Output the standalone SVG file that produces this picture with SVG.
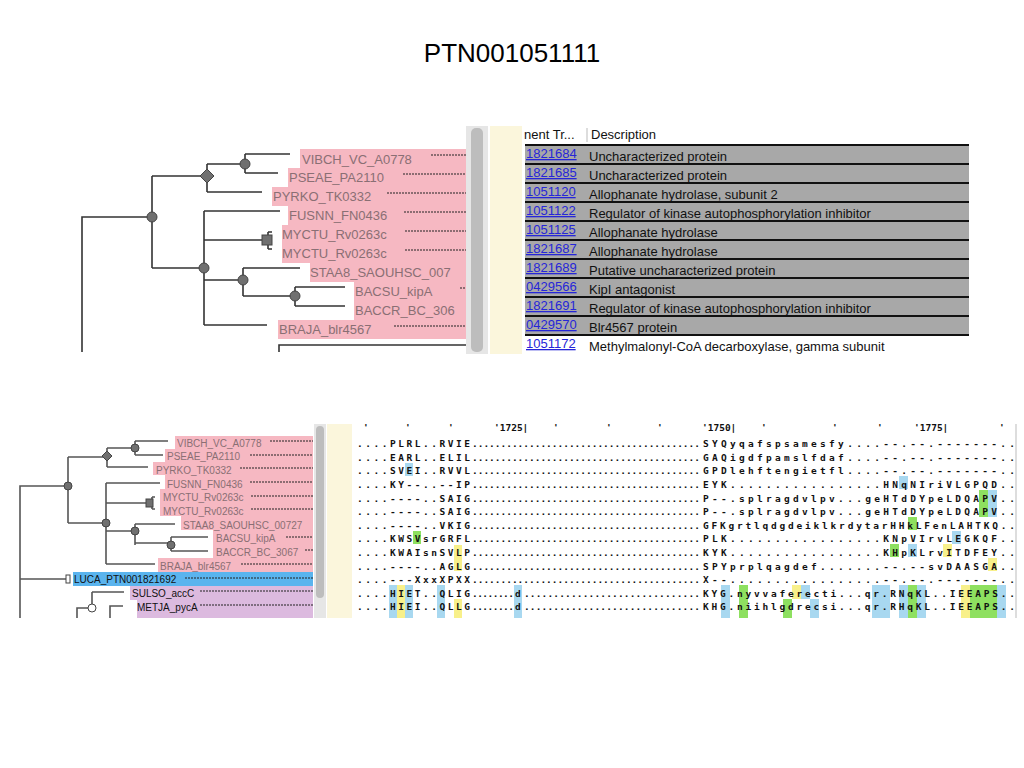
<svg xmlns="http://www.w3.org/2000/svg" width="1024" height="768" viewBox="0 0 1024 768">
<style>
.t{font-family:"Liberation Sans",Arial,sans-serif}
.ln{stroke:#333;stroke-width:1.6;fill:none}
.ln2{stroke:#555;stroke-width:1.6;fill:none}
.nd{fill:#707070;stroke:#444;stroke-width:1}
.lb{font-family:"Liberation Sans",Arial,sans-serif;font-size:13px;fill:#8a6f74}
.lb2{font-family:"Liberation Sans",Arial,sans-serif;font-size:10px;fill:#8a6f74}
.ds{stroke:#222;stroke-width:1;stroke-dasharray:2 1}
.pk{fill:#f6b8c2}
.id{font-family:"Liberation Sans",Arial,sans-serif;font-size:13px;fill:#2626d8;text-decoration:underline}
.de{font-family:"Liberation Sans",Arial,sans-serif;font-size:13px;fill:#111}
.al{font-family:"DejaVu Sans Mono",monospace;font-size:9.5px;font-weight:bold;fill:#111}
.hb{fill:#a8d8f0}.hy{fill:#f8f08a}.hg{fill:#8ee060}
</style>
<rect width="1024" height="768" fill="#fff"/>
<text x="512" y="62" text-anchor="middle" class="t" font-size="26" fill="#000">PTN001051111</text>

<!-- TOP PANEL -->
<g id="top-tree-labels">
<path class="pk" d="M300 149H468V339H278V320H354V282H310V263H282V225H288V206H272V187H288V168H300Z"/>
<text class="lb" x="302" y="164">VIBCH_VC_A0778</text>
<text class="lb" x="289" y="182">PSEAE_PA2110</text>
<text class="lb" x="273" y="201">PYRKO_TK0332</text>
<text class="lb" x="289" y="220">FUSNN_FN0436</text>
<text class="lb" x="282" y="239">MYCTU_Rv0263c</text>
<text class="lb" x="282" y="258">MYCTU_Rv0263c</text>
<text class="lb" x="310" y="277">STAA8_SAOUHSC_007</text>
<text class="lb" x="355" y="296">BACSU_kipA</text>
<text class="lb" x="355" y="315">BACCR_BC_306</text>
<text class="lb" x="279" y="334">BRAJA_blr4567</text>
<g class="ds">
<line x1="431" y1="155" x2="467" y2="155"/><line x1="403" y1="174" x2="467" y2="174"/>
<line x1="387" y1="193" x2="467" y2="193"/><line x1="404" y1="212" x2="467" y2="212"/>
<line x1="405" y1="231" x2="467" y2="231"/><line x1="405" y1="250" x2="467" y2="250"/>
<line x1="460" y1="288" x2="467" y2="288"/><line x1="394" y1="326" x2="467" y2="326"/>
</g>
</g>
<g id="top-tree">
<path class="ln" d="M82 352V217H152M152 176V268M152 176H207M207 164V192M207 164H245M245 154V173M245 154H290M245 173H278M207 192H262"/>
<path class="ln" d="M152 268H204M204 211V325M204 211H280M204 240H263M268 232V249M268 232H272M268 249H272M204 280H243M243 268V296M243 268H300M243 296H295M295 287V306M295 287H345M295 306H345M204 325H267M279 352V345H468"/>
<circle class="nd" cx="152" cy="217" r="5"/><circle class="nd" cx="245" cy="164" r="5"/>
<path class="nd" d="M207 169L214 176L207 183L200 176Z"/>
<circle class="nd" cx="204" cy="268" r="5"/><circle class="nd" cx="243" cy="280" r="5"/>
<circle class="nd" cx="295" cy="296" r="5"/><rect class="nd" x="262" y="235" width="10" height="10"/>
</g>
<g id="top-table">
<rect x="466" y="126" width="22" height="228" fill="#e6e6e6"/>
<rect x="471" y="128" width="12" height="224" rx="5" fill="#bdbdbd"/>
<rect x="490" y="126" width="32" height="228" fill="#fbf6dc"/>
<rect x="522" y="126" width="447" height="228" fill="#fff"/>
<text class="de" x="524" y="139">nent Tr...</text>
<line x1="587" y1="128" x2="587" y2="142" stroke="#bbb"/>
<text class="de" x="591" y="139">Description</text>
<rect x="525" y="145" width="444" height="190" fill="#a8a8a8"/>
<g stroke="#111" stroke-width="2">
<line x1="525" y1="145" x2="969" y2="145"/><line x1="525" y1="164" x2="969" y2="164"/><line x1="525" y1="183" x2="969" y2="183"/>
<line x1="525" y1="202" x2="969" y2="202"/><line x1="525" y1="221" x2="969" y2="221"/><line x1="525" y1="240" x2="969" y2="240"/>
<line x1="525" y1="259" x2="969" y2="259"/><line x1="525" y1="278" x2="969" y2="278"/><line x1="525" y1="297" x2="969" y2="297"/>
<line x1="525" y1="316" x2="969" y2="316"/><line x1="525" y1="335" x2="969" y2="335"/>
</g>
<text class="id" x="526" y="158">1821684</text><text class="de" x="589" y="161">Uncharacterized protein</text>
<text class="id" x="526" y="177">1821685</text><text class="de" x="589" y="180">Uncharacterized protein</text>
<text class="id" x="526" y="196">1051120</text><text class="de" x="589" y="199">Allophanate hydrolase, subunit 2</text>
<text class="id" x="526" y="215">1051122</text><text class="de" x="589" y="218">Regulator of kinase autophosphorylation inhibitor</text>
<text class="id" x="526" y="234">1051125</text><text class="de" x="589" y="237">Allophanate hydrolase</text>
<text class="id" x="526" y="253">1821687</text><text class="de" x="589" y="256">Allophanate hydrolase</text>
<text class="id" x="526" y="272">1821689</text><text class="de" x="589" y="275">Putative uncharacterized protein</text>
<text class="id" x="526" y="291">0429566</text><text class="de" x="589" y="294">KipI antagonist</text>
<text class="id" x="526" y="310">1821691</text><text class="de" x="589" y="313">Regulator of kinase autophosphorylation inhibitor</text>
<text class="id" x="526" y="329">0429570</text><text class="de" x="589" y="332">Blr4567 protein</text>
<text class="id" x="526" y="348">1051172</text><text class="de" x="589" y="351">Methylmalonyl-CoA decarboxylase, gamma subunit</text>
</g>

<!-- BOTTOM PANEL -->
<g id="bottom-tree-labels">
<path class="pk" d="M175 436H313V572H158V558H213V530H181V516H160V489H165V475H153V462H165V449H175Z"/>
<rect x="73" y="572" width="240" height="14" fill="#5ab4ee"/>
<path d="M130 586H313V618H137V600H130Z" fill="#dcbadf"/>
<text class="lb2" x="177" y="447">VIBCH_VC_A0778</text>
<text class="lb2" x="167" y="460">PSEAE_PA2110</text>
<text class="lb2" x="156" y="474">PYRKO_TK0332</text>
<text class="lb2" x="167" y="488">FUSNN_FN0436</text>
<text class="lb2" x="163" y="501">MYCTU_Rv0263c</text>
<text class="lb2" x="163" y="515">MYCTU_Rv0263c</text>
<text class="lb2" x="183" y="529">STAA8_SAOUHSC_00727</text>
<text class="lb2" x="216" y="542">BACSU_kipA</text>
<text class="lb2" x="216" y="556">BACCR_BC_3067</text>
<text class="lb2" x="160" y="570">BRAJA_blr4567</text>
<text class="lb2" x="74" y="583" fill="#111" style="fill:#111">LUCA_PTN001821692</text>
<text class="lb2" x="132" y="597" style="fill:#111">SULSO_accC</text>
<text class="lb2" x="137" y="611" style="fill:#111">METJA_pycA</text>
<g class="ds">
<line x1="270" y1="441" x2="313" y2="441"/><line x1="250" y1="455" x2="313" y2="455"/><line x1="240" y1="468" x2="313" y2="468"/>
<line x1="250" y1="482" x2="313" y2="482"/><line x1="251" y1="496" x2="313" y2="496"/><line x1="251" y1="509" x2="313" y2="509"/>
<line x1="286" y1="537" x2="313" y2="537"/><line x1="305" y1="550" x2="313" y2="550"/><line x1="241" y1="564" x2="313" y2="564"/>
<line x1="185" y1="578" x2="313" y2="578"/><line x1="200" y1="591" x2="313" y2="591"/><line x1="200" y1="605" x2="313" y2="605"/>
</g>
</g>
<g id="bottom-tree">
<path class="ln2" d="M20 618V486H68M68 457V523M68 457H107M107 448V467M107 448H135M135 441V455M135 441H168M135 455H163M107 467H148"/>
<path class="ln2" d="M68 523H106M106 483V564M106 483H160M106 503H148M152 497V509M152 497H155M152 509H155M106 531H135M135 524V545M135 524H175M135 543H171M171 537V551M171 537H208M171 551H208M106 564H155"/>
<path class="ln2" d="M20 579H66M92 592V604M92 592H124M77 618V608H88M110 618V606H123"/>
<rect x="66" y="575" width="4" height="8" fill="#fff" stroke="#444"/>
<circle class="nd" cx="68" cy="486" r="4"/><circle class="nd" cx="135" cy="448" r="4"/>
<path class="nd" d="M107 451L112 456L107 461L102 456Z"/>
<circle class="nd" cx="106" cy="523" r="4"/><circle class="nd" cx="135" cy="531" r="4"/><circle class="nd" cx="171" cy="545" r="4"/>
<rect class="nd" x="146" y="499" width="7" height="8"/>
<circle cx="92" cy="608" r="4" fill="#fff" stroke="#444"/>
</g>
<g id="alignment">
<rect x="314" y="424" width="12" height="194" fill="#e6e6e6"/>
<rect x="316" y="426" width="8" height="172" rx="4" fill="#bdbdbd"/>
<rect x="327" y="424" width="25" height="194" fill="#fbf6dc"/>
<line x1="1016" y1="424" x2="1016" y2="618" stroke="#bbb"/>
<g class="al" font-weight="normal">
<text x="363" y="431">'</text><text x="405" y="431">'</text><text x="448" y="431">'</text><text x="494" y="431">'1725|</text>
<text x="553" y="431">'</text><text x="606" y="431">'</text><text x="657" y="431">'</text><text x="702" y="431">'1750|</text>
<text x="761" y="431">'</text><text x="832" y="431">'</text><text x="877" y="431">'</text><text x="914" y="431">'1775|</text><text x="999" y="431">'</text>
</g>
<!-- highlights left (col x = 357 + 8.07*i) -->
<rect class="hb" x="405" y="463" width="8" height="13"/>
<rect class="hg" x="413" y="531" width="8" height="13"/>
<rect class="hy" x="454" y="545" width="8" height="13"/>
<rect class="hy" x="454" y="558" width="8" height="13"/>
<rect class="hb" x="389" y="585" width="8" height="33"/><rect class="hy" x="397" y="585" width="8" height="33"/><rect class="hb" x="405" y="585" width="8" height="33"/>
<rect class="hb" x="437" y="585" width="8" height="33"/><rect class="hy" x="454" y="599" width="8" height="19"/>
<rect class="hb" x="514" y="585" width="8" height="33"/>
<!-- highlights right (col x = 703 + 8.9*i) -->
<rect class="hb" x="899" y="476" width="9" height="13"/>
<rect class="hg" x="979" y="490" width="9" height="27"/><rect class="hb" x="988" y="490" width="9" height="27"/>
<rect class="hg" x="908" y="517" width="9" height="13"/>
<rect class="hb" x="952" y="531" width="9" height="13"/>
<rect class="hg" x="890" y="544" width="9" height="13"/><rect class="hb" x="908" y="544" width="9" height="13"/><rect class="hy" x="943" y="544" width="9" height="13"/>
<rect class="hy" x="988" y="558" width="9" height="13"/>
<rect class="hb" x="721" y="585" width="9" height="33"/><rect class="hg" x="739" y="585" width="9" height="33"/><rect class="hy" x="792" y="585" width="9" height="14"/>
<rect class="hb" x="801" y="585" width="9" height="14"/><rect class="hb" x="810" y="599" width="9" height="19"/><rect class="hg" x="783" y="599" width="9" height="19"/>
<rect class="hb" x="872" y="585" width="18" height="33"/><rect class="hb" x="899" y="585" width="9" height="33"/><rect class="hg" x="908" y="585" width="9" height="33"/><rect class="hb" x="917" y="585" width="9" height="33"/>
<rect class="hy" x="961" y="585" width="9" height="33"/><rect class="hg" x="970" y="585" width="27" height="33"/><rect class="hb" x="997" y="585" width="9" height="33"/>
<g class="al" lengthAdjust="spacing">
<text x="357" y="447" textLength="113">....PLRL..RVIE</text>
<text x="357" y="461" textLength="113">....EARL..ELIL</text>
<text x="357" y="474" textLength="113">....SVEI..RVVL</text>
<text x="357" y="488" textLength="113">....KY--..--IP</text>
<text x="357" y="502" textLength="113">....----..SAIG</text>
<text x="357" y="515" textLength="113">....----..SAIG</text>
<text x="357" y="529" textLength="113">....----..VKIG</text>
<text x="357" y="542" textLength="113">....KWSVsrGRFL</text>
<text x="357" y="556" textLength="113">....KWAIsnSVLP</text>
<text x="357" y="570" textLength="113">....----..AGLG</text>
<text x="357" y="583" textLength="113">....---XxxXPXX</text>
<text x="357" y="597" textLength="113">....HIET..QLIG</text>
<text x="357" y="610" textLength="113">....HIEI..QLLG</text>
</g>
<g class="al">
<text x="472" y="447" textLength="228">........................................</text>
<text x="472" y="461" textLength="228">........................................</text>
<text x="472" y="474" textLength="228">........................................</text>
<text x="472" y="488" textLength="228">........................................</text>
<text x="472" y="502" textLength="228">........................................</text>
<text x="472" y="515" textLength="228">........................................</text>
<text x="472" y="529" textLength="228">........................................</text>
<text x="472" y="542" textLength="228">........................................</text>
<text x="472" y="556" textLength="228">........................................</text>
<text x="472" y="570" textLength="228">........................................</text>
<text x="472" y="583" textLength="228">........................................</text>
<text x="472" y="597" textLength="42">........</text><text x="515" y="597">d</text><text x="524" y="597" textLength="176">..............................</text>
<text x="472" y="610" textLength="42">........</text><text x="515" y="610">d</text><text x="524" y="610" textLength="176">..............................</text>
</g>
<g class="al">
<text x="703" y="447" textLength="312">SYQyqafspsamesfy....--.--.-------..</text>
<text x="703" y="461" textLength="312">GAQigdfpamslfdaf....--.--.-------..</text>
<text x="703" y="474" textLength="312">GPDlehftengietfl....--.--.-------..</text>
<text x="703" y="488" textLength="312">EYK.................HNqNIriVLGPQD..</text>
<text x="703" y="502" textLength="312">P--.splragdvlpv...geHTdDYpeLDQAPV..</text>
<text x="703" y="515" textLength="312">P--.splragdvlpv...geHTdDYpeLDQAPV..</text>
<text x="703" y="529" textLength="312">GFKgrtlqdgdeiklkrdytarHHkLFenLAHTKQ..</text>
<text x="703" y="542" textLength="312">PLK.................KNpVIrvLEGKQF..</text>
<text x="703" y="556" textLength="312">KYK.................KHpKLrvITDFEY..</text>
<text x="703" y="570" textLength="312">SPYprplqagdef.......--.--svDAASGA..</text>
<text x="703" y="583" textLength="312">X--.................--.--.-------..</text>
<text x="703" y="597" textLength="312">KYG.nyvvaferecti...qr.RNqKL..IEEAPS..</text>
<text x="703" y="610" textLength="312">KHG.niihlgdrecsi...qr.RHqKL..IEEAPS..</text>
</g>
</g>
</svg>
